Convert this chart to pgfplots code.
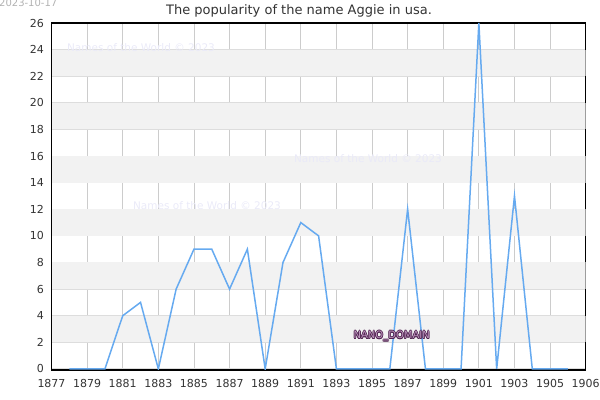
\documentclass[border=0pt]{standalone}
\usepackage{pgfplots}
\pgfplotsset{compat=1.18}
\usepackage{fontspec}
\setmainfont{DejaVu Sans}
\definecolor{linec}{RGB}{102,170,240}
\definecolor{bandc}{RGB}{242,242,242}
\definecolor{vgrid}{RGB}{204,204,204}
\definecolor{hgrid}{RGB}{221,221,221}
\definecolor{txt}{RGB}{51,51,51}
\definecolor{wm}{RGB}{234,234,248}
\definecolor{nanoout}{RGB}{80,35,80}
\definecolor{nanoin}{RGB}{190,150,190}
\begin{document}
\begin{tikzpicture}
\begin{axis}[
  set layers,
  scale only axis,
  width=534.2bp, height=347bp,
  at={(51.5bp,30bp)}, anchor=south west,
  xmin=1877, xmax=1907, ymin=-0.08, ymax=26,
  xtick={1877,1879,1881,1883,1885,1887,1889,1891,1893,1895,1897,1899,1901,1903,1905,1907},
  xticklabels={1877,1879,1881,1883,1885,1887,1889,1891,1893,1895,1897,1899,1901,1903,1905,1906},
  ytick={0,2,...,26},
  xmajorgrids, ymajorgrids,
  x grid style={color=vgrid, line width=0.9bp},
  y grid style={color=hgrid, line width=0.9bp},
  major tick length=0pt,
  axis line style={black, line width=1.3bp},
  tick label style={font=\fontsize{11bp}{13bp}\selectfont, text=txt},
  /pgf/number format/assume math mode=true,
  /pgf/number format/1000 sep={},
  xticklabel style={yshift=-5.5bp},
  yticklabel style={xshift=-4bp},
]
\fill[bandc, on layer=axis background] (axis cs:1877,2) rectangle (axis cs:1907,4);
\fill[bandc, on layer=axis background] (axis cs:1877,6) rectangle (axis cs:1907,8);
\fill[bandc, on layer=axis background] (axis cs:1877,10) rectangle (axis cs:1907,12);
\fill[bandc, on layer=axis background] (axis cs:1877,14) rectangle (axis cs:1907,16);
\fill[bandc, on layer=axis background] (axis cs:1877,18) rectangle (axis cs:1907,20);
\fill[bandc, on layer=axis background] (axis cs:1877,22) rectangle (axis cs:1907,24);
\addplot[linec, line width=1.5bp, mark=none] coordinates {
(1878,0) (1879,0) (1880,0) (1881,4) (1882,5) (1883,0) (1884,6) (1885,9) (1886,9)
(1887,6) (1888,9) (1889,0) (1890,8) (1891,11) (1892,10) (1893,0) (1894,0) (1895,0)
(1896,0) (1897,12) (1898,0) (1899,0) (1900,0) (1901,26) (1902,0) (1903,13) (1904,0)
(1905,0) (1906,0)
};
\end{axis}
\node[anchor=west, text=black!30, font=\fontsize{10bp}{12bp}\selectfont, inner sep=0pt] at (-1bp,397bp) {2023-10-17};
\node[text=txt, font=\fontsize{13bp}{15bp}\selectfont, inner sep=0pt] at (299bp,389.5bp) {The popularity of the name Aggie in usa.};
\node[text=wm, font=\fontsize{10.5bp}{12bp}\selectfont, inner sep=0pt] at (141bp,352bp) {Names of the World © 2023};
\node[text=wm, font=\fontsize{10.5bp}{12bp}\selectfont, inner sep=0pt] at (368bp,241bp) {Names of the World © 2023};
\node[text=wm, font=\fontsize{10.5bp}{12bp}\selectfont, inner sep=0pt] at (207bp,194bp) {Names of the World © 2023};
\foreach \dx/\dy in {-0.7/0,0.7/0,0/-0.7,0/0.7,-0.5/-0.5,0.5/0.5,-0.5/0.5,0.5/-0.5}{
  \node[text=nanoout, font=\fontsize{10bp}{12bp}\selectfont, inner sep=0pt] at (391.7bp+\dx bp,64bp+\dy bp) {NANO\_DOMAIN};
}
\node[text=nanoin, font=\fontsize{10bp}{12bp}\selectfont, inner sep=0pt] at (391.7bp,64bp) {NANO\_DOMAIN};
\pgfresetboundingbox
\path[use as bounding box] (0bp,0bp) rectangle (600bp,400bp);
\end{tikzpicture}
\end{document}
